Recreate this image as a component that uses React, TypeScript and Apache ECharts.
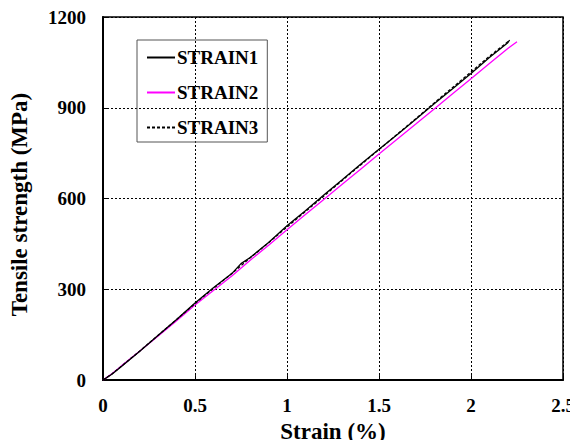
import React, { useEffect, useRef } from "react";
import * as echarts from "echarts";

const strain1: [number, number][] = [
  [0, 0], [0.05, 20], [0.1, 45], [0.2, 95], [0.3, 148], [0.4, 200], [0.5, 255], [0.6, 305],
  [0.7, 352], [0.75, 385], [0.8, 405], [0.9, 455], [1.0, 510], [1.1, 560], [1.2, 612],
  [1.3, 662], [1.4, 713], [1.5, 763], [1.6, 812], [1.7, 862], [1.8, 913], [1.9, 963],
  [2.0, 1013], [2.1, 1066], [2.2, 1115], [2.21, 1124],
];
const strain2: [number, number][] = [
  [0, 0], [0.05, 22], [0.1, 47], [0.2, 96], [0.3, 146], [0.4, 196], [0.5, 248], [0.6, 296],
  [0.7, 344], [0.8, 396], [0.9, 446], [1.0, 497], [1.1, 547], [1.2, 597], [1.3, 647],
  [1.4, 697], [1.5, 747], [1.6, 797], [1.7, 846], [1.8, 896], [1.9, 946], [2.0, 996],
  [2.1, 1046], [2.2, 1096], [2.25, 1118],
];
const strain3: [number, number][] = [
  [0, 0], [0.05, 21], [0.1, 46], [0.2, 96], [0.3, 148], [0.4, 200], [0.5, 253], [0.6, 303],
  [0.7, 352], [0.8, 404], [0.9, 454], [1.0, 506], [1.1, 557], [1.2, 608], [1.3, 660],
  [1.4, 711], [1.5, 762], [1.6, 813], [1.7, 864], [1.8, 916], [1.9, 967], [2.0, 1018],
  [2.1, 1070], [2.2, 1118], [2.21, 1122],
];

const seriesNames = ["STRAIN1", "STRAIN2", "STRAIN3"];

export default function App() {
  const ref = useRef<HTMLDivElement>(null);
  useEffect(() => {
    const chart = echarts.init(ref.current!, null, { renderer: "svg" });
    const font = "'Liberation Serif', 'Times New Roman', serif";
    chart.setOption({
      animation: false,
      textStyle: { fontFamily: font },
      grid: {
        left: 101, right: 15, top: 17, bottom: 66,
        show: true, borderColor: "#000", borderWidth: 1.5,
      },
      legend: {
        orient: "vertical",
        left: 137, top: 40,
        width: 131,
        padding: [8, 9, 5, 9],
        itemGap: 16,
        itemWidth: 28,
        itemHeight: 10,
        itemStyle: { opacity: 0 },
        borderColor: "#555",
        borderWidth: 1,
        textStyle: { fontFamily: font, fontWeight: "bold", fontSize: 19, color: "#000", padding: [0, 0, 0, -3] },
        data: seriesNames,
      },
      xAxis: {
        type: "value", min: 0, max: 2.5, interval: 0.5,
        name: "Strain (%)", nameLocation: "middle", nameGap: 39,
        nameTextStyle: { fontFamily: font, fontWeight: "bold", fontSize: 23, color: "#000" },
        axisLine: { lineStyle: { color: "#000", width: 2 } },
        axisTick: { inside: true, length: 5, lineStyle: { color: "#000" } },
        axisLabel: { fontFamily: font, fontWeight: "bold", fontSize: 19, color: "#000", margin: 16 },
        splitLine: { show: true, lineStyle: { color: "#000", type: [2, 2], width: 1 } },
      },
      yAxis: {
        type: "value", min: 0, max: 1200, interval: 300,
        name: "Tensile strength (MPa)", nameLocation: "middle", nameGap: 72,
        nameTextStyle: {
          fontFamily: font, fontWeight: "bold", fontSize: 23, color: "#000",
          padding: [0, 12, 0, 0],
        },
        axisLine: { show: true, lineStyle: { color: "#000", width: 2 } },
        axisTick: { show: true, inside: true, length: 5, lineStyle: { color: "#000" } },
        axisLabel: {
          fontFamily: font, fontWeight: "bold", fontSize: 19, color: "#000", margin: 17,
          formatter: (v: number) => String(v),
        },
        splitLine: { show: true, lineStyle: { color: "#000", type: [2, 2], width: 1 } },
      },
      series: [
        {
          name: "STRAIN1", type: "line", data: strain1, symbol: "none",
          lineStyle: { color: "#000", width: 1.3 }, itemStyle: { color: "#000" }, z: 3,
        },
        {
          name: "STRAIN2", type: "line", data: strain2, symbol: "none",
          lineStyle: { color: "#ff00ff", width: 1.3 }, itemStyle: { color: "#ff00ff" }, z: 2,
        },
        {
          name: "STRAIN3", type: "line", data: strain3, symbol: "none",
          lineStyle: { color: "#000", width: 1.3, type: [3, 2] }, itemStyle: { color: "#000" }, z: 4,
        },
      ],
    });
    return () => chart.dispose();
  }, []);
  return <div ref={ref} style={{ width: 578, height: 448, margin: -8 }} />;
}
